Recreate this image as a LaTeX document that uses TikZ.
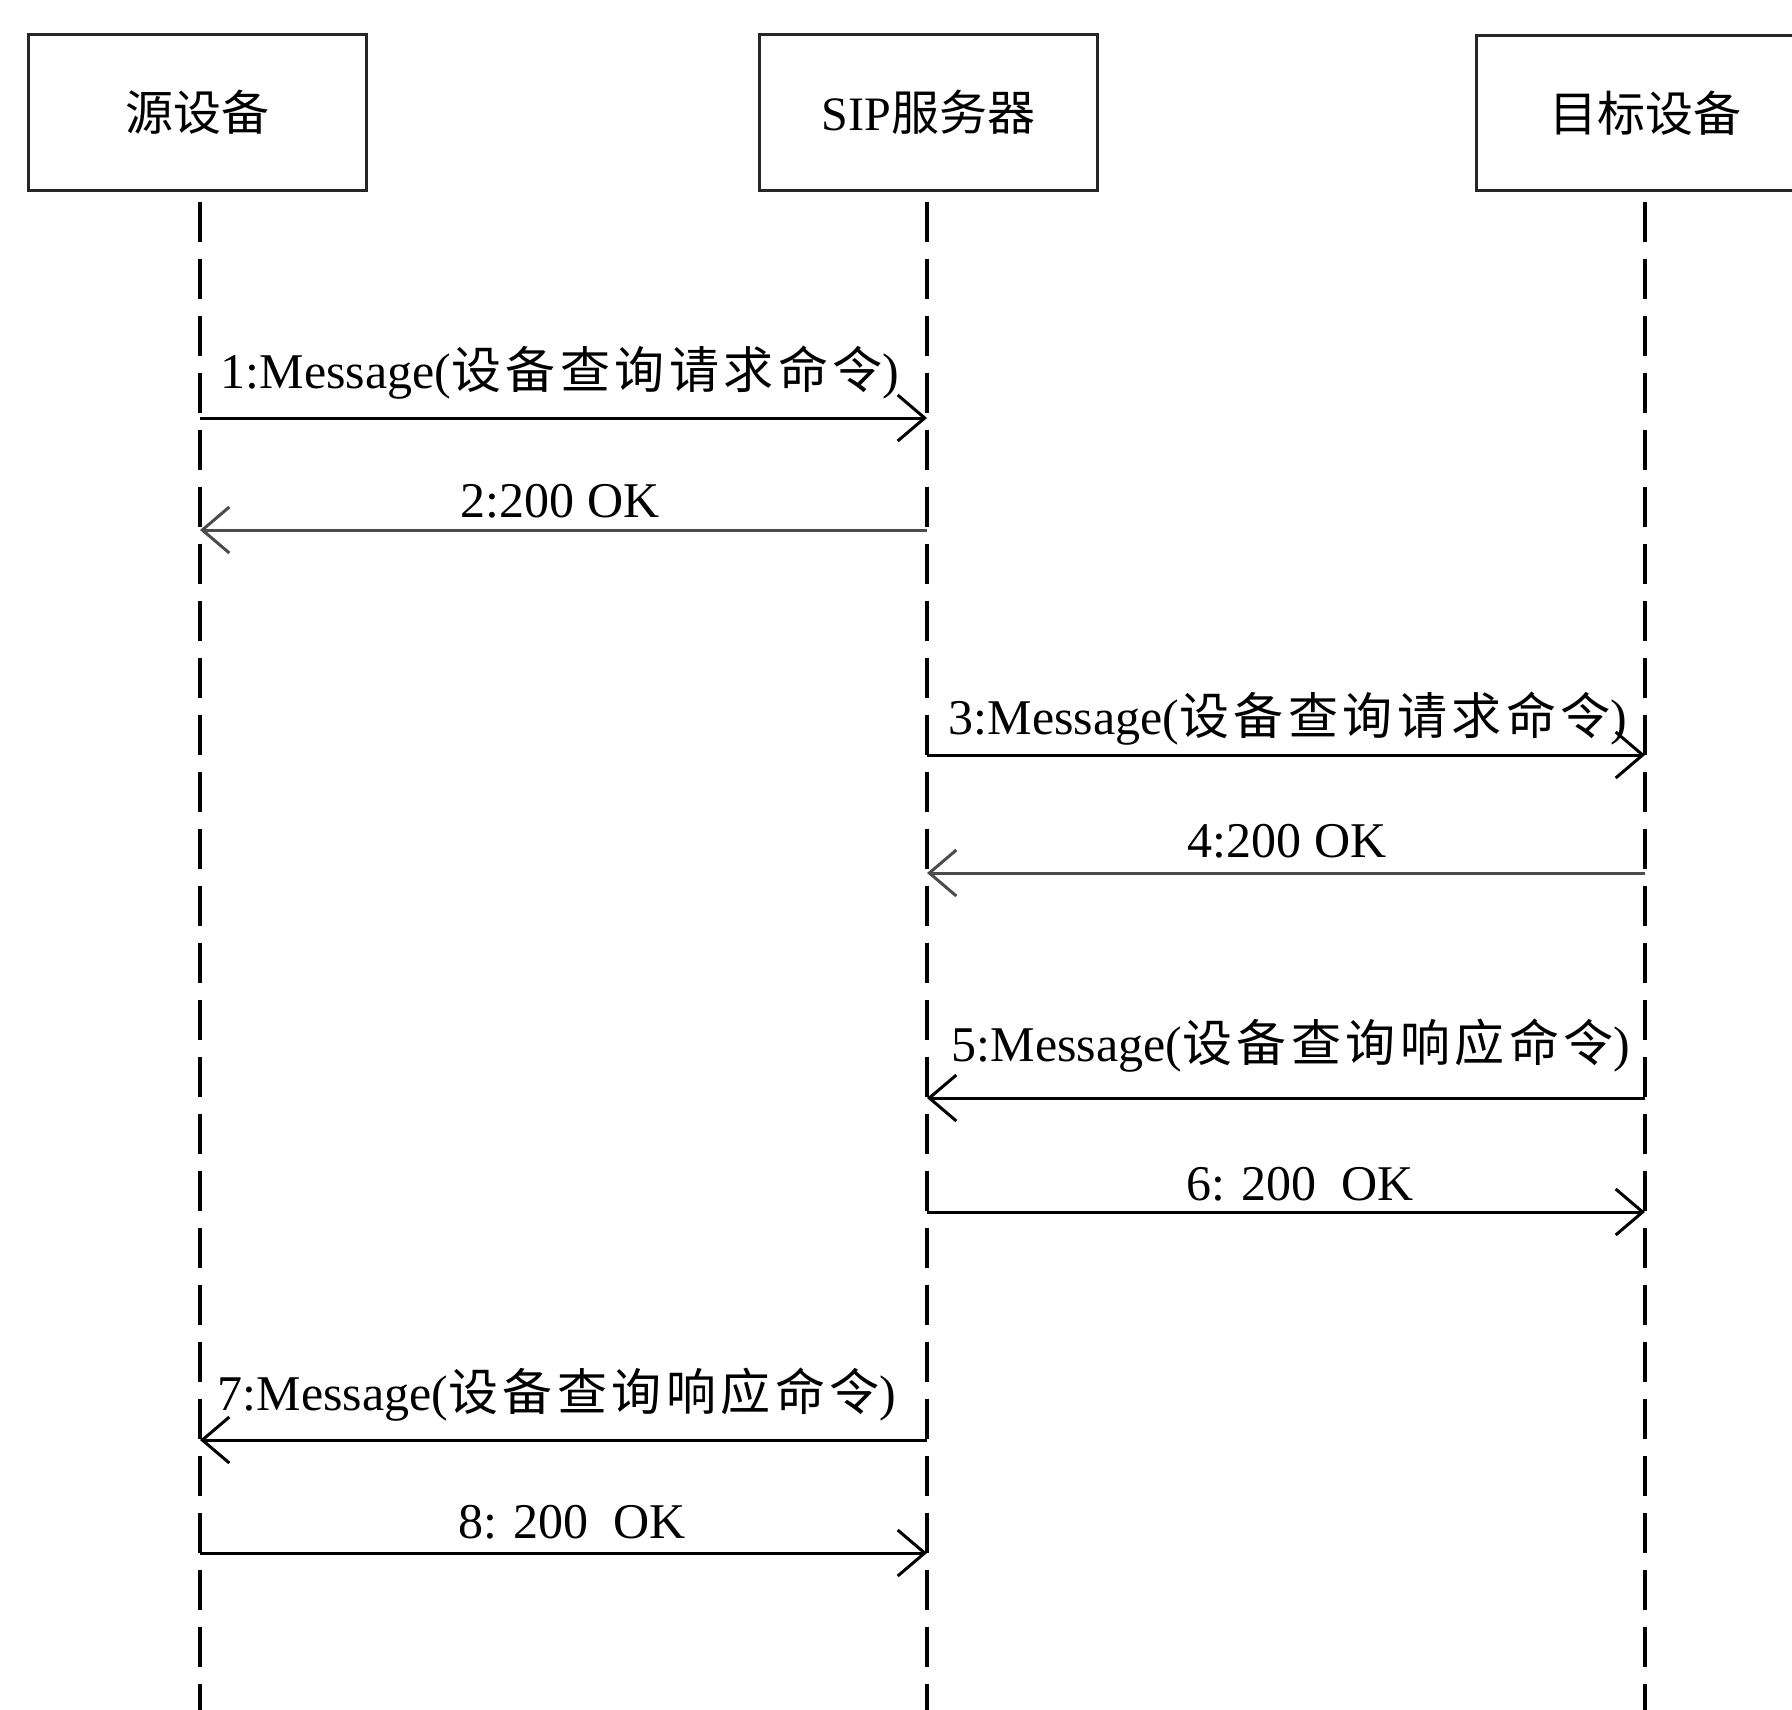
\documentclass[tikz,border=0pt]{standalone}
\usepackage{fontspec}
\setmainfont{Liberation Serif}
\newfontfamily\cjk{Noto Sans CJK SC}
\newfontfamily\cjkw[LetterSpace=9]{Noto Sans CJK SC}
\usetikzlibrary{arrows.meta}
\tikzset{
  actor/.style={draw=black!85, line width=3pt, fill=white, minimum width=338pt, minimum height=155pt, inner sep=0pt, font=\fontsize{48}{56}\selectfont},
  lifeline/.style={line width=4pt, dash pattern=on 40pt off 17pt},
  msg/.style={line width=3pt, -{Straight Barb[length=27pt,width=46pt,line width=3pt]}},
  reply/.style={msg, draw=black!70},
  lbl/.style={font=\fontsize{50}{58}\selectfont, inner sep=0pt, anchor=base}
}
\begin{document}
\begin{tikzpicture}[x=1pt,y=-1pt]
\useasboundingbox (0,0) rectangle (1792,1710);
\fill[white] (0,0) rectangle (1792,1710);
\clip (0,0) rectangle (1792,1710);
% actors
\node[actor] (src) at (197.5,112.5) {\cjk 源设备};
\node[actor] (sip) at (928.5,112.5) {SIP\cjk 服务器};
\node[actor] (dst) at (1645,113) {\cjk 目标设备};
% lifelines
\coordinate (srcEnd) at (200,1715);
\coordinate (sipEnd) at (927,1715);
\coordinate (dstEnd) at (1645,1715);
\draw[lifeline] (src.south -| srcEnd) ++(0,10) -- (srcEnd);
\draw[lifeline] (sip.south -| sipEnd) ++(0,10) -- (sipEnd);
\draw[lifeline] (dst.south -| dstEnd) ++(0,10) -- (dstEnd);
% messages
\draw[msg] (srcEnd |- 0,418) -- (sipEnd |- 0,418);
\node[lbl] (l1) at (560,388) {1:Message({\cjkw 设备查询请求命令})};
\draw[reply] (sipEnd |- 0,530) -- (srcEnd |- 0,530);
\node[lbl] (l2) at (560,517) {2:200 OK};
\draw[msg] (sipEnd |- 0,755) -- (dstEnd |- 0,755);
\node[lbl] (l3) at (1288,734) {3:Message({\cjkw 设备查询请求命令})};
\draw[reply] (dstEnd |- 0,873) -- (sipEnd |- 0,873);
\node[lbl] (l4) at (1287,857) {4:200 OK};
\draw[msg] (dstEnd |- 0,1098) -- (sipEnd |- 0,1098);
\node[lbl] (l5) at (1291,1061) {5:Message({\cjkw 设备查询响应命令})};
\draw[msg] (sipEnd |- 0,1212) -- (dstEnd |- 0,1212);
\node[lbl] (l6) at (1300,1200) {6: 200\ \ OK};
\draw[msg] (sipEnd |- 0,1440) -- (srcEnd |- 0,1440);
\node[lbl] (l7) at (557,1410) {7:Message({\cjkw 设备查询响应命令})};
\draw[msg] (srcEnd |- 0,1553) -- (sipEnd |- 0,1553);
\node[lbl] (l8) at (572,1538) {8: 200\ \ OK};
\end{tikzpicture}
\end{document}
